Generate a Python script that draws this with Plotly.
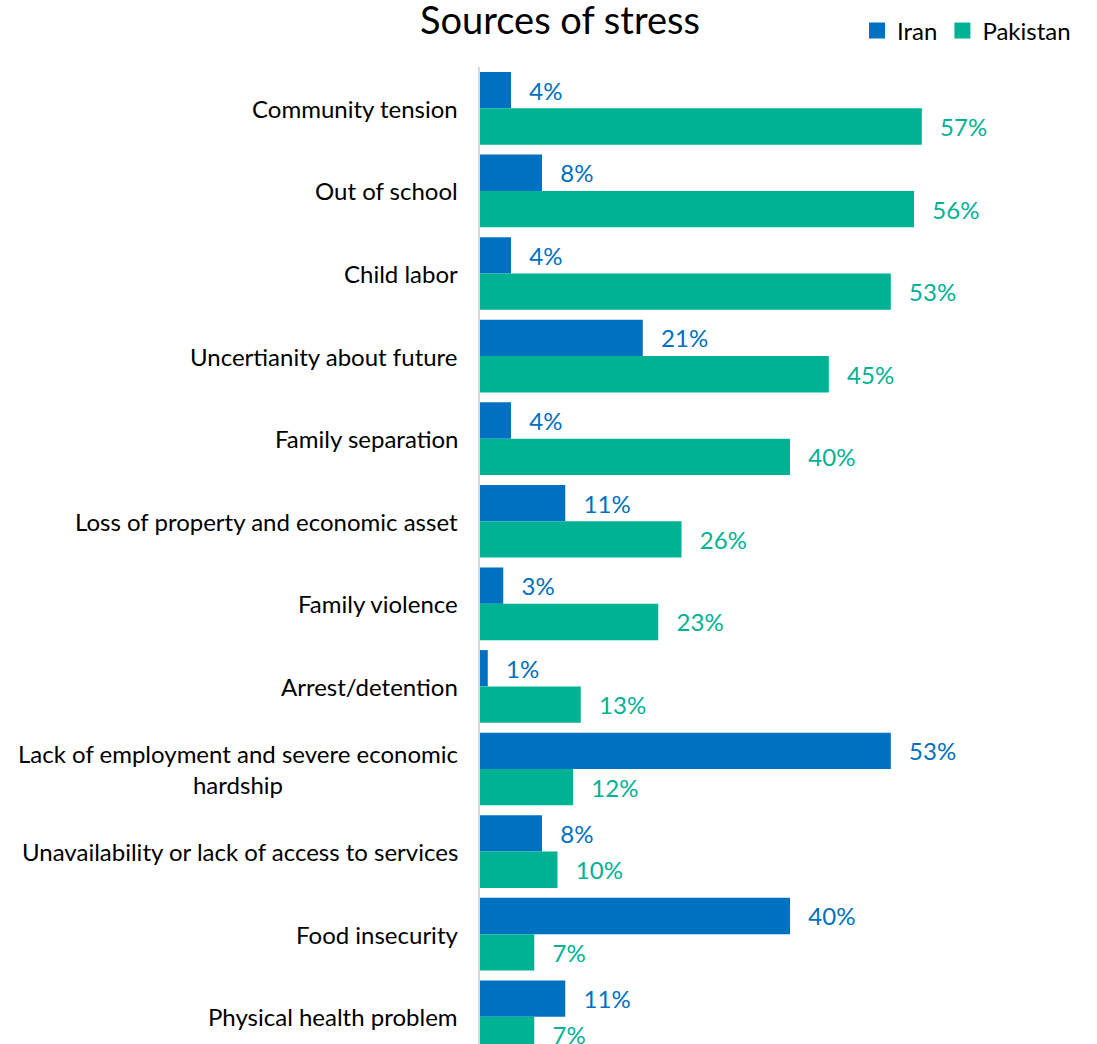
import plotly.graph_objects as go

categories = [
    "Community tension",
    "Out of school",
    "Child labor",
    "Uncertianity about future",
    "Family separation",
    "Loss of property and economic asset",
    "Family violence",
    "Arrest/detention",
    "Lack of employment and severe economic<br>hardship",
    "Unavailability or lack of access to services",
    "Food insecurity",
    "Physical health problem",
]
series_names = ["Iran", "Pakistan"]
iran = [4, 8, 4, 21, 4, 11, 3, 1, 53, 8, 40, 11]
pakistan = [57, 56, 53, 45, 40, 26, 23, 13, 12, 10, 7, 7]

IRAN_COLOR = "#0070C0"
PAK_COLOR = "#00B294"
FONT = "Lato"

fig = go.Figure()
for name, vals, color in zip(series_names, [iran, pakistan], [IRAN_COLOR, PAK_COLOR]):
    fig.add_trace(go.Bar(
        name=name,
        y=list(range(len(categories))),
        x=vals,
        orientation="h",
        marker=dict(color=color, line=dict(width=0)),
        texttemplate="\u00a0\u00a0\u2009%{x}%",
        textposition="outside",
        textfont=dict(family=FONT, size=24, color=color),
        cliponaxis=True,
        showlegend=False,
    ))

# legend entries with larger square swatches
for name, color in zip(series_names, [IRAN_COLOR, PAK_COLOR]):
    fig.add_trace(go.Scatter(
        name=name, x=[None], y=[None], mode="markers",
        marker=dict(symbol="square", size=16, color=color),
        showlegend=True,
    ))

# category labels as annotations so multi-line labels stay centred
for i, cat in enumerate(categories):
    fig.add_annotation(
        x=0, xref="paper", y=i, yref="y",
        text=cat, showarrow=False,
        xanchor="right", yanchor="middle", align="center",
        xshift=-20,
        font=dict(family=FONT, size=24, color="#000000"),
    )

fig.update_layout(
    width=1097, height=1044,
    margin=dict(l=480, r=0, t=67, b=0, autoexpand=False),
    paper_bgcolor="white", plot_bgcolor="white",
    barmode="group", bargap=0.12, bargroupgap=0,
    title=dict(text="Sources of stress", x=560 / 1097, xanchor="center",
               xref="container", yref="container",
               y=1 - 21 / 1044, yanchor="middle",
               font=dict(family=FONT, size=38, color="#000000")),
    legend=dict(orientation="h", xref="container", yref="container",
                x=1076 / 1097, xanchor="right", y=1 - 31 / 1044, yanchor="middle",
                font=dict(family=FONT, size=24, color="#000000"),
                itemwidth=30, traceorder="normal", tracegroupgap=0),
    showlegend=True,
)
fig.update_xaxes(range=[0, 79.6], visible=False)
fig.update_yaxes(range=[11.33, -0.5], showticklabels=False, showgrid=False,
                 zeroline=False, showline=True, linecolor="#d9d9d9", linewidth=2,
                 ticks="")

fig.write_html("out.html")
